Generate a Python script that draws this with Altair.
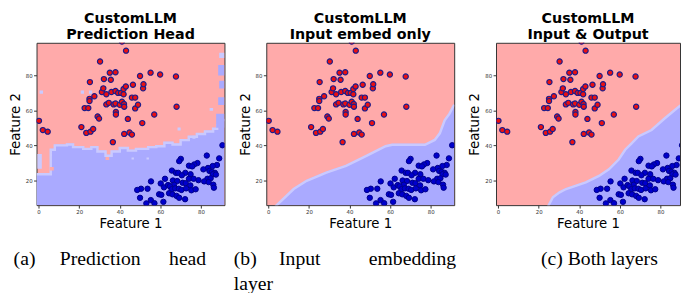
import altair as alt
import pandas as pd

# ---------------- data ----------------
red_x = [0.2, 2.1, 4.5, 21.1, 23.5, 25.6, 26.9, 22.7, 24.5, 25.3,
         25.1, 25.1, 27.5, 29.1, 29.8, 30.3, 31.2, 32.2, 31.9, 33.4,
         33.4, 34.6, 35.1, 35.6, 35.9, 36.6, 37.0, 37.9, 37.9, 37.9,
         38.1, 38.1, 39.2, 40.0, 40.6, 41.1, 41.1, 41.9, 41.9, 42.1,
         42.2, 42.2, 43.1, 43.0, 44.0, 44.8, 46.0, 46.0, 46.5, 47.6,
         47.6, 49.0, 50.0, 51.1, 51.5, 51.7, 55.2, 57.0, 59.9, 67.7,
         68.0]
red_y = [54.0, 48.7, 47.8, 50.4, 47.1, 47.8, 49.3, 61.3, 61.3, 76.2,
         66.6, 65.3, 68.1, 56.5, 55.3, 88.0, 70.5, 77.9, 72.6, 69.2,
         63.4, 64.3, 81.6, 77.5, 70.5, 41.8, 63.4, 81.8, 71.1, 63.9,
         59.1, 57.6, 70.0, 63.2, 70.0, 99.4, 64.9, 72.2, 69.2, 63.6,
         46.5, 62.1, 94.2, 73.7, 55.1, 47.3, 46.1, 67.3, 74.7, 67.3,
         61.1, 63.2, 79.7, 52.7, 72.6, 75.0, 81.6, 57.6, 80.5, 79.4,
         62.1]

blue_x = [82.9, 70.1, 69.3, 78.3, 76.7, 74.1, 75.7, 89.0, 87.9, 85.8,
          83.5, 81.2, 84.2, 85.5, 86.9, 85.9, 87.4, 65.7, 67.7, 68.8,
          72.3, 74.9, 70.6, 83.2, 84.8, 81.6, 83.8, 62.3, 66.2, 68.3,
          66.8, 71.0, 72.5, 74.1, 76.4, 78.8, 74.8, 86.1, 86.4, 60.2,
          61.8, 63.8, 64.7, 65.6, 67.3, 69.1, 70.4, 72.7, 75.3, 77.4,
          55.4, 53.7, 50.5, 48.6, 59.4, 60.5, 64.3, 66.0, 68.0, 69.3,
          72.2, 50.0, 53.1, 55.3, 57.1, 61.5, 90.6]
blue_y = [34.1, 32.2, 30.9, 29.8, 29.0, 28.3, 27.9, 32.5, 28.7, 28.1,
          27.0, 26.2, 25.3, 24.7, 24.2, 23.4, 23.2, 25.5, 24.2, 24.2,
          24.2, 23.4, 22.8, 20.8, 21.1, 19.3, 18.9, 20.8, 19.8, 19.5,
          17.4, 18.5, 18.3, 20.8, 20.8, 20.0, 17.0, 17.4, 15.7, 18.1,
          15.9, 17.2, 16.5, 14.8, 15.3, 15.1, 14.4, 15.3, 14.2, 14.8,
          19.3, 15.1, 15.1, 14.4, 11.9, 11.6, 12.5, 11.9, 11.0, 9.9,
          9.1, 9.9, 6.7, 8.6, 6.8, 7.6, 40.0]

# decision boundaries (blue region lies below)
b1_x = [-1, 6, 8, 14, 17, 22, 26, 29, 33, 36, 40, 44, 48, 54, 58, 62,
        66, 70, 74, 78, 82, 86, 88, 90, 91.6]
b1_y = [24, 38, 40.5, 41, 39.5, 38.5, 39.5, 37, 34.5, 37, 39, 37.5, 38.5,
        39.5, 40, 42, 41, 43.5, 45.5, 47, 48.5, 50, 52, 55, 55]
b2_x = [3.5, 12.5, 18.9, 28.6, 38.3, 48.1, 57.8, 61.0, 77.2, 82.0, 84.5,
        86.9, 89.3, 91.6]
b2_y = [5.5, 15.5, 20.2, 24.9, 28.7, 34.3, 40.0, 40.8, 40.8, 43.6, 47.4,
        54.9, 58.7, 63.8]
b3_x = [24.6, 27.0, 30.3, 33.5, 43.2, 49.7, 54.6, 59.4, 62.6, 65.9, 69.1,
        75.6, 82.0, 89.8]
b3_y = [5.5, 10.8, 13.6, 15.5, 19.3, 23.0, 26.8, 32.4, 38.0, 41.8, 45.6,
        49.3, 55.9, 63.4]

# small noisy patches of panel (a)
isl_x0 = [-0.6, 5.5, 0.5, 20.8, 24.8, 88.5, 89.0, 88.5, 87.5, 89.0, 84.3,
          68.5, 75.8, 33.0, 45.8, 53.2]
isl_x1 = [1.6, 7.5, 2.2, 22.4, 26.4, 91.6, 91.6, 91.6, 91.6, 91.6, 86.0,
          70.0, 77.3, 34.8, 47.0, 54.4]
isl_y0 = [26.5, 25.5, 69.5, 69.5, 69.5, 80.0, 72.5, 63.0, 50.0, 90.0, 59.8,
          48.5, 43.8, 31.5, 31.8, 31.8]
isl_y1 = [35.0, 27.5, 71.3, 71.3, 71.3, 86.0, 77.0, 67.5, 58.0, 93.0, 61.3,
          50.2, 45.5, 33.3, 33.0, 33.0]
isl_c = ["light", "pink", "light", "light", "light", "blue", "blue", "blue",
         "blue", "light", "light", "light", "light", "pink", "light", "light"]

titles = [["CustomLLM", "Prediction Head"],
          ["CustomLLM", "Input embed only"],
          ["CustomLLM", "Input & Output"]]

# ---------------- styling ----------------
PINK = "#ffaaaa"
BLUE = "#aaaaff"
LIGHT = "#cacaff"
Y_DOM = [5.7, 98.7]
W, W3, H = 191, 187, 165
SERIF = "Liberation Serif"

red_df = pd.DataFrame({"x": red_x, "y": red_y})
blue_df = pd.DataFrame({"x": blue_x, "y": blue_y})
isl_df = pd.DataFrame({"x": isl_x0, "x2": isl_x1, "y": isl_y0, "y2": isl_y1, "c": isl_c})


def enc_x(xdom):
    return alt.X("x:Q", scale=alt.Scale(domain=xdom, nice=False, zero=False),
                 axis=alt.Axis(values=[0, 20, 40, 60, 80]), title="Feature 1")


def enc_y():
    return alt.Y("y:Q", scale=alt.Scale(domain=Y_DOM, nice=False, zero=False),
                 axis=alt.Axis(values=[20, 40, 60, 80]), title="Feature 2")


def caption(text, x, y, align="left"):
    return alt.Chart(alt.Data(values=[{}])).mark_text(
        text=text, font=SERIF, fontSize=20, align=align, baseline="alphabetic",
        color="black").encode(x=alt.value(x), y=alt.value(y))


def panel(title, bx, by, interp, xdom, width, caps, islands=False):
    bdf = pd.DataFrame({"x": bx, "y": by})
    layers = []
    area = alt.Chart(bdf).mark_area(color=BLUE, opacity=1, interpolate=interp, clip=True).encode(
        x=enc_x(xdom), y=enc_y(), y2=alt.datum(Y_DOM[0]))
    band = alt.Chart(bdf).mark_line(color=LIGHT, strokeWidth=2.5, interpolate=interp,
                                     clip=True, yOffset=1).encode(x=enc_x(xdom), y=enc_y())
    layers += [area, band]
    if islands:
        layers.append(alt.Chart(isl_df).mark_rect(clip=True).encode(
            x=enc_x(xdom), x2="x2:Q", y=enc_y(), y2="y2:Q",
            color=alt.Color("c:N", scale=alt.Scale(domain=["blue", "light", "pink"],
                                                   range=[BLUE, LIGHT, PINK]), legend=None)))
    layers.append(alt.Chart(red_df).mark_circle(size=28, color="#ea1010", stroke="#1c1c8c",
                                                strokeWidth=1.2, opacity=1, clip=True).encode(
        x=enc_x(xdom), y=enc_y()))
    layers.append(alt.Chart(blue_df).mark_circle(size=30, color="#0000cc", stroke="#00008b",
                                                 strokeWidth=1, opacity=1, clip=True).encode(
        x=enc_x(xdom), y=enc_y()))
    layers += [caption(*c) for c in caps]
    return alt.layer(*layers).properties(
        width=width, height=H,
        title=alt.TitleParams(title, fontSize=14.5, font="DejaVu Sans", fontWeight="bold",
                              anchor="middle", lineHeight=17, offset=0, color="black"))


p1 = panel(titles[0], b1_x, b1_y, "step-after", [-1, 91.6], W,
           [("(a)", -23.3, 226), ("Prediction", 23.7, 226), ("head", 134.7, 226)],
           islands=True)
p2 = panel(titles[1], b2_x, b2_y, "linear", [-1, 91.6], W,
           [("(b)", -33, 226), ("Input", 13, 226), ("embedding", 193, 226, "right"),
            ("layer", -33, 251)])
p3 = panel(titles[2], b3_x, b3_y, "linear", [-1, 89.6], W3,
           [("(c) Both layers", 45.7, 226)])

chart = alt.hconcat(p1, p2, p3, spacing=42.5, bounds="flush").properties(
    padding=0
).configure_view(
    fill=PINK, stroke="#333333", strokeWidth=1
).configure_axis(
    labelFont="DejaVu Sans", labelFontSize=5.5, labelColor="#333333",
    tickSize=3, tickColor="#333333", domain=False, grid=False, labelPadding=1.5,
    titleFont="DejaVu Sans", titleFontSize=13.5, titleFontWeight="normal",
    titleColor="black"
).configure_axisX(titlePadding=2).configure_axisY(titlePadding=3)

chart.save("out.html", embed_options={"renderer": "svg", "actions": False})
